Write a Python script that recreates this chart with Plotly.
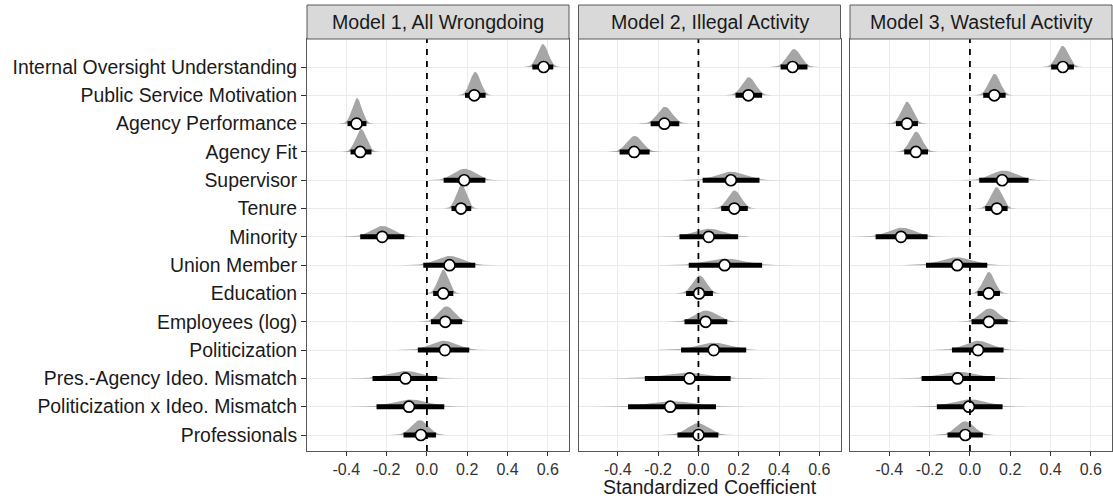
import numpy as np
import plotly.graph_objects as go

# Coefficient labels, listed top to bottom
terms = [
    "Internal Oversight Understanding",
    "Public Service Motivation",
    "Agency Performance",
    "Agency Fit",
    "Supervisor",
    "Tenure",
    "Minority",
    "Union Member",
    "Education",
    "Employees (log)",
    "Politicization",
    "Pres.-Agency Ideo. Mismatch",
    "Politicization x Ideo. Mismatch",
    "Professionals",
]

panel_titles = ["Model 1, All Wrongdoing", "Model 2, Illegal Activity", "Model 3, Wasteful Activity"]

# Model 1: point estimate and 95% interval bounds
m1_est = [0.579, 0.235, -0.349, -0.331, 0.185, 0.169, -0.222, 0.112, 0.081, 0.091, 0.089, -0.106, -0.089, -0.030]
m1_lo = [0.523, 0.189, -0.394, -0.379, 0.083, 0.122, -0.331, -0.018, 0.031, 0.020, -0.045, -0.270, -0.250, -0.116]
m1_hi = [0.627, 0.291, -0.300, -0.275, 0.290, 0.220, -0.112, 0.240, 0.131, 0.175, 0.210, 0.051, 0.086, 0.045]

# Model 2
m2_est = [0.467, 0.248, -0.169, -0.319, 0.161, 0.178, 0.051, 0.130, 0.003, 0.036, 0.076, -0.044, -0.140, 0.000]
m2_lo = [0.408, 0.184, -0.237, -0.391, 0.021, 0.113, -0.094, -0.048, -0.061, -0.069, -0.086, -0.266, -0.349, -0.104]
m2_hi = [0.541, 0.316, -0.095, -0.242, 0.303, 0.245, 0.197, 0.316, 0.072, 0.143, 0.237, 0.160, 0.087, 0.099]

# Model 3
m3_est = [0.461, 0.121, -0.312, -0.268, 0.160, 0.134, -0.342, -0.063, 0.093, 0.094, 0.040, -0.061, -0.005, -0.023]
m3_lo = [0.403, 0.066, -0.367, -0.326, 0.046, 0.076, -0.468, -0.218, 0.038, 0.008, -0.089, -0.240, -0.164, -0.111]
m3_hi = [0.516, 0.177, -0.258, -0.208, 0.291, 0.187, -0.210, 0.086, 0.149, 0.187, 0.167, 0.124, 0.162, 0.064]

x_ticks = [-0.4, -0.2, 0.0, 0.2, 0.4, 0.6]
x_ticktext = ["-0.4", "-0.2", "0.0", "0.2", "0.4", "0.6"]
ref_value = 0.0
x_title = "Standardized Coefficient"

models = [(m1_est, m1_lo, m1_hi), (m2_est, m2_lo, m2_hi), (m3_est, m3_lo, m3_hi)]

# ---- styling / geometry ----
W, H = 1113, 500
ML, MR, MT, MB = 307, 1, 39, 49
plot_w = W - ML - MR
plot_h = H - MT - MB
panel_w = 262.0
gap = (plot_w - 3 * panel_w) / 2
strip_h = 34
X_RANGE = [-0.595, 0.705]
Y_RANGE = [0.435, 14.99]
FONT = "Liberation Sans, Arial, sans-serif"
SLAB = "#A6A6A6"
BORDER = "#595959"
GRID = "#EBEBEB"

n = len(terms)
rows = [n - i for i in range(n)]  # top term sits highest

# slab heights are normalised across every panel (tallest slab = 0.9 row)
sds = [[(hi[j] - lo[j]) / (2 * 1.96) for j in range(n)] for (_, lo, hi) in models]
sd_min = min(min(s) for s in sds)
scale = 0.9

fig = go.Figure()
for p, (est, lo, hi) in enumerate(models):
    xa = "x" if p == 0 else f"x{p + 1}"
    ya = "y" if p == 0 else f"y{p + 1}"
    # density slabs
    for j in range(n):
        sd = sds[p][j]
        mid = (lo[j] + hi[j]) / 2
        z = np.linspace(-3.6, 3.6, 181)
        xs = mid + sd * z
        ys = rows[j] + scale * (sd_min / sd) * np.exp(-0.5 * z ** 2)
        fig.add_trace(go.Scatter(
            x=np.concatenate([xs, xs[::-1]]),
            y=np.concatenate([ys, np.full_like(ys, rows[j])]),
            fill="toself", fillcolor=SLAB, mode="lines",
            line=dict(color=SLAB, width=0),
            xaxis=xa, yaxis=ya, showlegend=False, hoverinfo="skip",
        ))
    # intervals
    ix, iy = [], []
    for j in range(n):
        ix += [lo[j], hi[j], None]
        iy += [rows[j], rows[j], None]
    fig.add_trace(go.Scatter(
        x=ix, y=iy, mode="lines", line=dict(color="black", width=5),
        xaxis=xa, yaxis=ya, showlegend=False, hoverinfo="skip",
    ))
    # point estimates
    fig.add_trace(go.Scatter(
        x=est, y=rows, mode="markers",
        marker=dict(size=11, color="white", line=dict(color="black", width=1.7)),
        xaxis=xa, yaxis=ya, showlegend=False,
    ))
    # dashed reference line at zero, drawn on top
    fig.add_trace(go.Scatter(
        x=[ref_value, ref_value], y=Y_RANGE, mode="lines",
        line=dict(color="black", width=1.8, dash="6px,6px"),
        xaxis=xa, yaxis=ya, showlegend=False, hoverinfo="skip",
    ))

layout = dict(
    width=W, height=H,
    margin=dict(l=ML, r=MR, t=MT, b=MB),
    plot_bgcolor="white", paper_bgcolor="white",
    font=dict(family=FONT, color="#1A1A1A"),
    showlegend=False,
)

shapes = []
annotations = []
for p in range(3):
    x0 = (p * (panel_w + gap)) / plot_w
    x1 = (p * (panel_w + gap) + panel_w) / plot_w
    key = "" if p == 0 else str(p + 1)
    layout["xaxis" + key] = dict(
        domain=[x0, min(x1, 1.0)], range=X_RANGE,
        tickvals=x_ticks, ticktext=x_ticktext,
        showgrid=True, gridcolor=GRID, gridwidth=1.2,
        zeroline=False, showline=True, mirror=True, linecolor=BORDER, linewidth=1,
        ticks="outside", ticklen=4, tickcolor="#333333",
        tickfont=dict(family=FONT, size=16, color="#333333"),
        anchor="y" + key,
    )
    layout["yaxis" + key] = dict(
        range=Y_RANGE, tickvals=rows,
        ticktext=terms if p == 0 else None,
        showticklabels=(p == 0),
        showgrid=True, gridcolor=GRID, gridwidth=1.2,
        zeroline=False, showline=True, mirror=True, linecolor=BORDER, linewidth=1,
        ticks="outside" if p == 0 else "", ticklen=5, tickcolor="#333333",
        tickfont=dict(family=FONT, size=19.4, color="#1A1A1A"),
        anchor="x" + key,
        **({} if p == 0 else {"matches": "y"}),
    )
    xref = "x" if p == 0 else f"x{p + 1}"
    # facet strip
    shapes.append(dict(
        type="rect", xref=f"{xref} domain", yref="paper",
        x0=0, x1=1, y0=1, y1=1 + strip_h / plot_h,
        fillcolor="#D9D9D9", line=dict(color=BORDER, width=1), layer="above",
    ))
    annotations.append(dict(
        text=panel_titles[p], xref=f"{xref} domain", yref="paper",
        x=0.5, y=1 + (strip_h / 2) / plot_h, showarrow=False,
        xanchor="center", yanchor="middle",
        font=dict(family=FONT, size=19.6, color="#1A1A1A"),
    ))

annotations.append(dict(
    text=x_title, xref="paper", yref="paper",
    x=0.5, y=-(487 - (H - MB)) / plot_h, showarrow=False,
    xanchor="center", yanchor="middle",
    font=dict(family=FONT, size=19.6, color="#1A1A1A"),
))

layout["shapes"] = shapes
layout["annotations"] = annotations
fig.update_layout(**layout)
fig.write_html("out.html")
